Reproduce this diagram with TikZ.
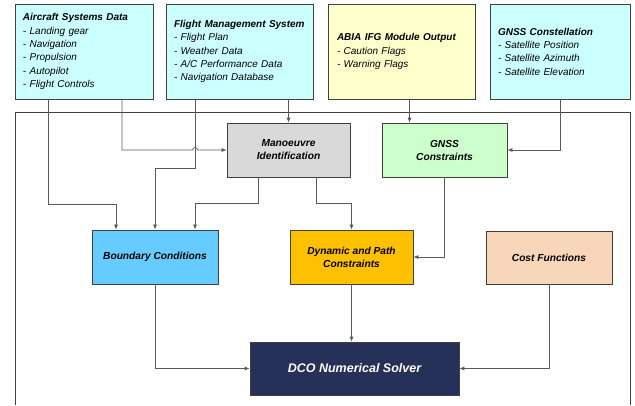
\documentclass[tikz,border=0pt]{standalone}
\usepackage{fontspec}
\setmainfont{Liberation Sans}
\usetikzlibrary{arrows.meta}
\definecolor{boxCyan}{RGB}{204,255,255}
\definecolor{boxYellow}{RGB}{255,255,204}
\definecolor{boxGray}{RGB}{217,217,217}
\definecolor{boxGreen}{RGB}{204,255,204}
\definecolor{boxBlue}{RGB}{102,204,255}
\definecolor{boxOrange}{RGB}{255,192,0}
\definecolor{boxPeach}{RGB}{247,214,186}
\definecolor{boxNavy}{RGB}{38,49,89}
\definecolor{lineGray}{RGB}{64,64,64}
\definecolor{connGray}{RGB}{90,90,90}

\begin{document}
\begin{tikzpicture}[x=1pt, y=-1pt,
    topbox/.style={draw=lineGray, line width=0.8pt, minimum height=95pt, inner xsep=8pt,
      align=left, text width=#1, font=\fontsize{10}{13.3}\selectfont\itshape},
    blockbox/.style={draw=lineGray, line width=0.8pt, minimum height=54pt, minimum width=#1,
      align=center, font=\fontsize{10.2}{13}\selectfont\bfseries\itshape},
    conn/.style={draw=connGray, line width=0.7pt, -{Latex[length=5pt,width=4pt]}}]
    \useasboundingbox (0,0) rectangle (635,405);
    % outer frame
    \draw[lineGray, line width=0.8pt] (15,405) -- (15,112) -- (630,112) -- (630,405);
    % input boxes
    \node[topbox=122pt, fill=boxCyan] (asd) at (84,51.5) {{\bfseries Aircraft Systems Data}\\- Landing gear\\- Navigation\\- Propulsion\\- Autopilot\\- Flight Controls};
    \node[topbox=131pt, fill=boxCyan] (fms) at (239.5,51.5) {{\bfseries Flight Management System}\\- Flight Plan\\- Weather Data\\- A/C Performance Data\\- Navigation Database};
    \node[topbox=129pt, inner xsep=9pt, fill=boxYellow] (abia) at (401.5,51.5) {{\bfseries ABIA IFG Module Output}\\- Caution Flags\\- Warning Flags};
    \node[topbox=124pt, fill=boxCyan] (gnss) at (560,51.5) {{\bfseries GNSS Constellation}\\- Satellite Position\\- Satellite Azimuth\\- Satellite Elevation};
    % processing blocks
    \node[blockbox=123pt, fill=boxGray] (mi) at (288.5,150) {Manoeuvre\\Identification};
    \node[blockbox=125pt, fill=boxGreen] (gc) at (444.5,150) {GNSS\\Constraints};
    \node[blockbox=126pt, fill=boxBlue] (bc) at (155,257) {Boundary Conditions};
    \node[blockbox=123pt, fill=boxOrange] (dpc) at (351.5,257) {Dynamic and Path\\Constraints};
    \node[blockbox=126pt, minimum height=53pt, fill=boxPeach] (cf) at (549,257.5) {Cost Functions};
    \node[blockbox=209pt, minimum height=53pt, fill=boxNavy, text=white,
      font=\fontsize{12.5}{15}\selectfont\bfseries\itshape] (dco) at (354.5,368.5) {DCO Numerical Solver};
    % connectors
    \path ([xshift=-44.5pt]fms.south) coordinate (fmsl);
    \path ([xshift=-35pt]gc.north) coordinate (gcin);
    \coordinate (hop) at (fmsl |- mi.west);
    \draw[conn] ([xshift=-36pt]asd.south) -- ++(0,105) -| ([xshift=-39pt]bc.north);
    \draw[conn] ([xshift=38pt]asd.south) |- ([xshift=-2.5pt]hop) arc[start angle=180, end angle=0, radius=2.5pt] -- (mi.west);
    \draw[conn] (fmsl) -- ++(0,69) -| (bc.north);
    \draw[conn] (fms.south -| mi.north) -- (mi.north);
    \draw[conn] ([xshift=-30.5pt]mi.south) -- ++(0,26) -| ([xshift=40pt]bc.north);
    \draw[conn] ([xshift=27.5pt]mi.south) -- ++(0,26) -| (dpc.north);
    \draw[conn] (abia.south -| gcin) -- (gcin);
    \draw[conn] (gnss.south) |- (gc.east);
    \draw[conn] (gc.south) |- (dpc.east);
    \draw[conn] (bc.south) |- (dco.west);
    \draw[conn] (dpc.south) -- (dpc.south |- dco.north);
    \draw[conn] (cf.south) |- (dco.east);
\end{tikzpicture}
\end{document}
